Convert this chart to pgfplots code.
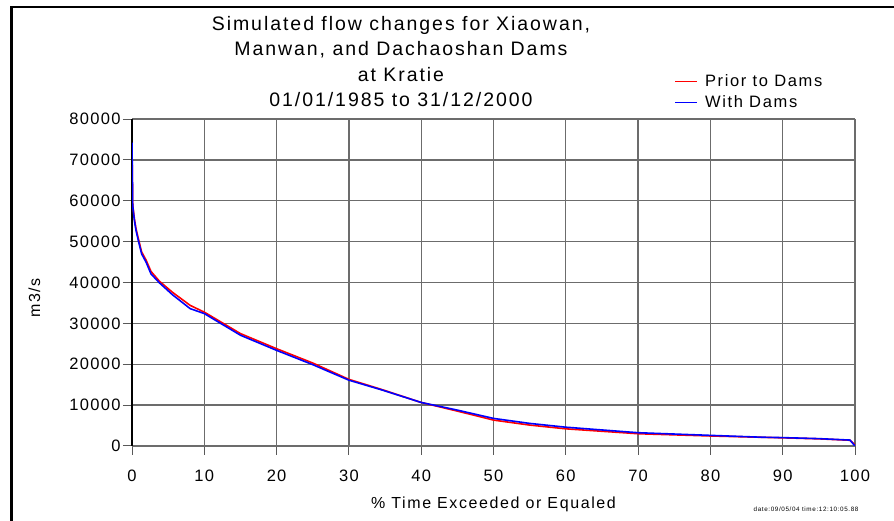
\documentclass[border=0pt]{standalone}
\usepackage{fontspec}
\setmainfont{Liberation Sans}[LetterSpace=10]
\newfontfamily\tickfont{Liberation Sans}[LetterSpace=8]
\usepackage{pgfplots}
\pgfplotsset{compat=1.18}
\pgfplotsset{
  shortline/.style={legend image code/.code={\draw[##1] (0pt,0pt) -- (22pt,0pt);}},
}

\pgfplotstableread{
x y
0 72500
0.1 59000
0.33 55600
0.55 53200
0.87 50800
1.33 47500
1.94 45500
2.63 42700
3.8 40300
5.6 37600
8.05 34400
10 32750
15 27500
20 23800
25 20300
30 16300
34.4 13900
40 10650
45 8540
50 6340
55 5120
60 4200
70 3000
80 2450
87 2130
90 2000
95 1750
99.3 1400
100 300
}\prior

\pgfplotstableread{
x y
0 74200
0.1 58700
0.33 55200
0.55 52800
0.87 50300
1.33 47000
1.94 45000
2.63 42100
3.8 39900
5.6 37000
8.05 33600
10 32400
15 27100
20 23400
25 19900
30 16100
34.4 13800
40 10650
45 8780
50 6750
55 5530
60 4600
70 3250
80 2600
87 2150
90 2050
95 1800
99.3 1450
100 0
}\withdams

\begin{document}
\begin{tikzpicture}
\useasboundingbox (0pt,0pt) rectangle (894pt,521pt);
\fill[white] (0pt,0pt) rectangle (894pt,521pt);
\draw[black, line width=2.6pt] (11.5pt,0pt) -- (11.5pt,514pt) -- (894pt,514pt);
\begin{axis}[
  at={(132pt,75pt)}, anchor=south west,
  scale only axis, width=723pt, height=327pt,
  xmin=0, xmax=100, ymin=0, ymax=80000,
  xtick distance=10, ytick distance=10000,
  scaled y ticks=false,
  /pgf/number format/1000 sep={},
  /pgf/number format/assume math mode=true,
  axis lines=left,
  axis line style={-},
  x axis line style={gray!85!black, line width=1.3pt},
  y axis line style={black, line width=1.3pt},
  grid=major,
  major grid style={gray!85!black, line width=1.3pt},
  tick align=outside,
  major tick length=9pt,
  tick style={gray!70!black, line width=1pt},
  ticklabel style={font=\tickfont\fontsize{16.5}{19}\selectfont},
  xticklabel style={yshift=-11pt},
  yticklabel style={xshift=1pt},
  xlabel={\% Time Exceeded or Equaled},
  xlabel style={at={(axis description cs:0.5,-0.177)}, anchor=center, font=\fontsize{16}{19}\selectfont},
  ylabel={m3/s},
  ylabel style={at={(axis description cs:-0.135,0.453)}, anchor=center, font=\fontsize{16}{19}\selectfont},
  title={Simulated flow changes for Xiaowan,\\Manwan, and Dachaoshan Dams\\at Kratie\\01/01/1985 to 31/12/2000},
  title style={at={(axis description cs:0.372,1.157)}, anchor=center, align=center, font=\fontsize{19.5}{25.5}\selectfont},
  legend style={at={(axis description cs:0.750,1.142)}, anchor=north west, draw=none, fill=none,
    inner sep=0pt, row sep=3.5pt, font=\fontsize{16.5}{19}\selectfont, nodes={inner sep=2pt}},
  legend cell align=left,
  shortline,
]
\addplot[color=red, line width=1.6pt] table[x=x,y=y] {\prior};
\addlegendentry{\hspace{5pt}Prior to Dams}
\addplot[color=blue, line width=1.6pt] table[x=x,y=y] {\withdams};
\addlegendentry{\hspace{5pt}With Dams}
\end{axis}
\node[anchor=east, font=\fontsize{6.3}{7}\selectfont] at (862pt,12pt) {date:09/05/04 time:12:10:05.88};
\end{tikzpicture}
\end{document}
